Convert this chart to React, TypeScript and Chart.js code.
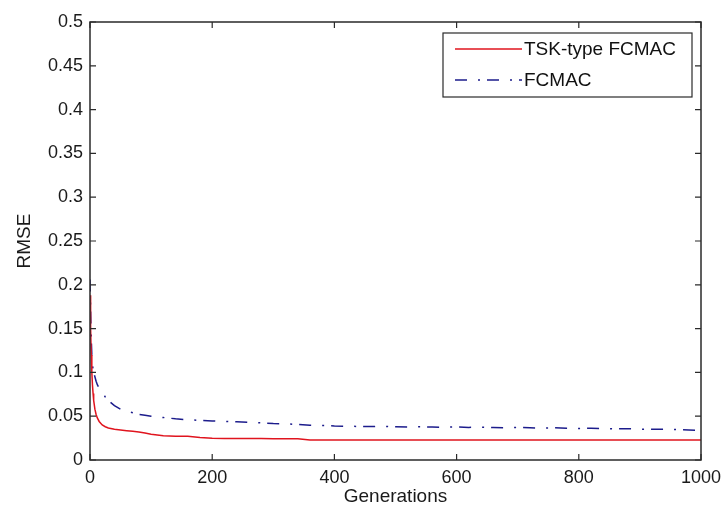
import React, { useEffect, useRef } from "react";
import { Chart, registerables } from "chart.js";

Chart.register(...registerables);

const generations = [
  0, 1, 2, 3, 4, 5, 6, 8, 10, 12, 15, 20, 25, 30, 40, 50, 60, 70, 80, 90, 100,
  120, 140, 160, 180, 200, 220, 240, 260, 280, 300, 320, 340, 360, 380, 400,
  420, 440, 460, 480, 500, 520, 540, 560, 580, 600, 620, 640, 660, 680, 700,
  720, 740, 760, 780, 800, 820, 840, 860, 880, 900, 920, 940, 960, 980, 1000,
];

const tskRmse = [
  0.188, 0.15, 0.12, 0.1, 0.086, 0.076, 0.068, 0.058, 0.052, 0.048,
  0.044, 0.04, 0.038, 0.0365,
  0.035, 0.0343, 0.0335, 0.0328, 0.032, 0.0308, 0.0295,
  0.0278, 0.0272, 0.027, 0.0256, 0.0248,
  0.0246, 0.0246, 0.0245, 0.0245, 0.0244, 0.0244, 0.0243,
  0.0229, 0.0229, 0.0229, 0.0228, 0.0228, 0.0228, 0.0228, 0.0228, 0.0228,
  0.0228, 0.0227, 0.0227, 0.0227, 0.0227, 0.0227, 0.0227, 0.0227, 0.0227,
  0.0227, 0.0227, 0.0227, 0.0227, 0.0227, 0.0228, 0.0227, 0.0227, 0.0227,
  0.0227, 0.0227, 0.0227, 0.0227, 0.0227, 0.0227,
];

const fcmacRmse = [
  0.206, 0.17, 0.14, 0.12, 0.108, 0.104, 0.1, 0.095, 0.09, 0.086,
  0.082, 0.077, 0.072, 0.068,
  0.062, 0.058, 0.0555, 0.054, 0.052, 0.051, 0.05,
  0.0485, 0.047, 0.046, 0.0452, 0.0445,
  0.0441, 0.0436, 0.0431, 0.0424, 0.0416, 0.0413, 0.0405,
  0.0398, 0.0394, 0.0388, 0.0386, 0.0383, 0.0381, 0.0384, 0.0379, 0.0377,
  0.038, 0.0376, 0.0374, 0.0377, 0.0372, 0.0375, 0.0371, 0.0369, 0.0372,
  0.0367, 0.0365, 0.0368, 0.0362, 0.036, 0.0363, 0.0358, 0.0355, 0.0357,
  0.0352, 0.035, 0.0352, 0.0347, 0.0343, 0.0338,
];

const seriesLabels = ["TSK-type FCMAC", "FCMAC"];
const xTitle = "Generations";
const yTitle = "RMSE";

const FONT = "'Liberation Sans', Arial, Helvetica, sans-serif";
const AXIS_COLOR = "#2a2a2a";
const RED = "#e0141e";
const BLUE = "#1c1c8c";
const BLUE_DASH = [12, 11, 2, 7];

const framePlugin = {
  id: "matlabFrame",
  afterDraw(chart: any) {
    const { ctx, chartArea } = chart;
    const { left, right, top, bottom } = chartArea;
    const xs = chart.scales.x;
    const ys = chart.scales.y;
    ctx.save();
    ctx.strokeStyle = AXIS_COLOR;
    ctx.lineWidth = 1.5;
    ctx.strokeRect(left, top, right - left, bottom - top);
    const tl = 6;
    ctx.lineWidth = 1.2;
    ctx.beginPath();
    xs.ticks.forEach((t: any) => {
      const px = xs.getPixelForValue(t.value);
      ctx.moveTo(px, bottom);
      ctx.lineTo(px, bottom - tl);
      ctx.moveTo(px, top);
      ctx.lineTo(px, top + tl);
    });
    ys.ticks.forEach((t: any) => {
      const py = ys.getPixelForValue(t.value);
      ctx.moveTo(left, py);
      ctx.lineTo(left + tl, py);
      ctx.moveTo(right, py);
      ctx.lineTo(right - tl, py);
    });
    ctx.stroke();

    // legend box (MATLAB style, inside the axes, north-east)
    const bx = 443;
    const by = 33;
    const bw = 249;
    const bh = 64;
    ctx.fillStyle = "#ffffff";
    ctx.fillRect(bx, by, bw, bh);
    ctx.strokeStyle = AXIS_COLOR;
    ctx.lineWidth = 1.2;
    ctx.strokeRect(bx, by, bw, bh);
    const rows = [by + 16, by + 47];
    chart.data.datasets.forEach((ds: any, i: number) => {
      const y = rows[i];
      ctx.beginPath();
      ctx.strokeStyle = ds.borderColor;
      ctx.lineWidth = 1.5;
      ctx.setLineDash(ds.borderDash || []);
      ctx.moveTo(455, y);
      ctx.lineTo(522, y);
      ctx.stroke();
      ctx.setLineDash([]);
      ctx.fillStyle = "#111";
      ctx.font = `19px ${FONT}`;
      ctx.textAlign = "left";
      ctx.textBaseline = "middle";
      ctx.fillText(ds.label, 524, y + 1);
    });
    ctx.restore();
  },
};

function fmt(v: number) {
  return String(+Number(v).toFixed(2));
}

export default function App() {
  const ref = useRef<HTMLCanvasElement>(null);
  useEffect(() => {
    document.body.style.margin = "0";
    const canvas = ref.current!;
    const chart = new Chart(canvas, {
      type: "line",
      data: {
        datasets: [
          {
            label: seriesLabels[0],
            data: generations.map((g, i) => ({ x: g, y: tskRmse[i] })),
            borderColor: RED,
            borderWidth: 1.5,
            pointRadius: 0,
            tension: 0,
            fill: false,
          },
          {
            label: seriesLabels[1],
            data: generations.map((g, i) => ({ x: g, y: fcmacRmse[i] })),
            borderColor: BLUE,
            borderWidth: 1.5,
            borderDash: BLUE_DASH,
            pointRadius: 0,
            tension: 0,
            fill: false,
          },
        ],
      },
      options: {
        animation: false,
        responsive: false,
        maintainAspectRatio: false,
        layout: { padding: { top: 22, right: 22, left: 0, bottom: 0 } },
        plugins: {
          legend: { display: false },
          tooltip: { enabled: false },
        },
        scales: {
          x: {
            type: "linear",
            min: 0,
            max: 1000,
            grid: { display: false, drawTicks: false },
            border: { display: false },
            ticks: {
              stepSize: 200,
              padding: 7,
              color: "#1a1a1a",
              font: { family: FONT, size: 18 },
              callback: (v: any) => fmt(v),
              maxRotation: 0,
            },
            title: {
              display: true,
              text: xTitle,
              color: "#1a1a1a",
              font: { family: FONT, size: 19 },
              padding: { top: 0, bottom: 7 },
            },
            afterFit: (s: any) => {
              s.height = 55;
              s.paddingLeft = 0;
              s.paddingRight = 0;
            },
          },
          y: {
            type: "linear",
            min: 0,
            max: 0.5,
            grid: { display: false, drawTicks: false },
            border: { display: false },
            ticks: {
              stepSize: 0.05,
              padding: 7,
              color: "#1a1a1a",
              font: { family: FONT, size: 18 },
              callback: (v: any) => fmt(v),
            },
            title: {
              display: true,
              text: yTitle,
              color: "#1a1a1a",
              font: { family: FONT, size: 19 },
              padding: { top: 13, bottom: 0 },
            },
            afterFit: (s: any) => {
              s.width = 90;
              s.paddingTop = 0;
              s.paddingBottom = 0;
            },
          },
        },
      },
      plugins: [framePlugin],
    });
    return () => chart.destroy();
  }, []);
  return (
    <canvas
      ref={ref}
      width={723}
      height={515}
      style={{ display: "block", position: "absolute", left: 0, top: 0 }}
    />
  );
}
